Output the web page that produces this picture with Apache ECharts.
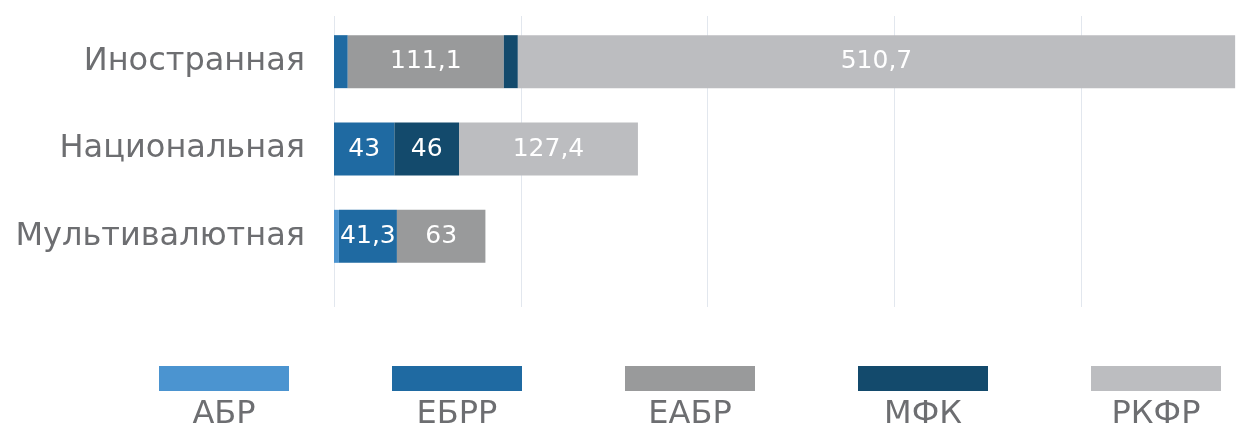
<!DOCTYPE html>
<html lang="ru">

<head>
    <meta charset="UTF-8">
    <title>Chart</title>
    <script src="https://cdn.jsdelivr.net/npm/echarts@6/dist/echarts.min.js"></script>
    <style>
        html, body { margin: 0; padding: 0; background: #fff; }
    </style>
</head>

<body>
    <div id="main" style="width: 1256px;height:430px;"></div>

    <script type="text/javascript">
        // данные
        var categories = ['Иностранная', 'Национальная', 'Мультивалютная'];
        var seriesNames = ['АБР', 'ЕБРР', 'ЕАБР', 'МФК', 'РКФР'];
        var abr = [0, 0, 3.5];
        var ebrr = [9.8, 43, 41.3];
        var eabr = [111.1, 0, 63];
        var mfk = [10, 46, 0];
        var rkfr = [510.7, 127.4, 0];
        var colors = ['#4b94d0', '#1f6aa2', '#999a9b', '#134a6c', '#bcbdc0'];

        var values = [abr, ebrr, eabr, mfk, rkfr];
        var textColor = '#6d6e71';
        var fontName = 'DejaVu Sans';

        var myChart = echarts.init(document.getElementById('main'));

        var series = seriesNames.map(function (name, i) {
            return {
                name: name,
                type: 'bar',
                stack: 'total',
                xAxisIndex: 0,
                yAxisIndex: 0,
                barWidth: 53,
                itemStyle: { color: colors[i] },
                label: {
                    show: true,
                    position: 'inside',
                    color: '#fff',
                    fontSize: 25,
                    fontFamily: fontName,
                    formatter: function (p) {
                        return p.value >= 20 ? String(p.value).replace('.', ',') : '';
                    }
                },
                data: values[i]
            };
        });

        // легенда: прямоугольники, подписи снизу
        var legends = seriesNames.map(function (name, i) {
            return {
                data: [name],
                left: 159 + i * 233,
                top: 366,
                padding: 0,
                icon: 'rect',
                itemWidth: 130,
                itemHeight: 25,
                selectedMode: false,
                formatter: function () { return ''; }
            };
        });

        var legendText = seriesNames.map(function (name, i) {
            return {
                type: 'text',
                x: 159 + i * 233 + 65,
                y: 415,
                style: {
                    text: name,
                    fill: textColor,
                    fontSize: 32,
                    fontFamily: fontName,
                    textAlign: 'center',
                    textVerticalAlign: 'middle'
                }
            };
        });

        var option = {
            animation: false,
            legend: legends,
            graphic: legendText,
            grid: [
                { left: 334, width: 934, top: 18, height: 262, outerBoundsMode: 'none' },
                { left: 334, width: 934, top: 16, height: 291, outerBoundsMode: 'none' }
            ],
            xAxis: [
                {
                    type: 'value', gridIndex: 0, min: 0, max: 665, interval: 133,
                    axisLabel: { show: false }, axisLine: { show: false },
                    axisTick: { show: false }, splitLine: { show: false }
                },
                {
                    type: 'value', gridIndex: 1, min: 0, max: 665, interval: 133,
                    axisLabel: { show: false }, axisLine: { show: false },
                    axisTick: { show: false },
                    splitLine: { show: true, lineStyle: { color: '#e2e7ee', width: 1 } }
                }
            ],
            yAxis: [
                {
                    type: 'category', gridIndex: 0, inverse: true, data: categories,
                    axisLine: { show: false }, axisTick: { show: false },
                    axisLabel: { color: textColor, fontSize: 32, fontFamily: fontName, margin: 29 }
                },
                { type: 'value', gridIndex: 1, show: false }
            ],
            series: series
        };

        myChart.setOption(option);
    </script>
</body>

</html>
